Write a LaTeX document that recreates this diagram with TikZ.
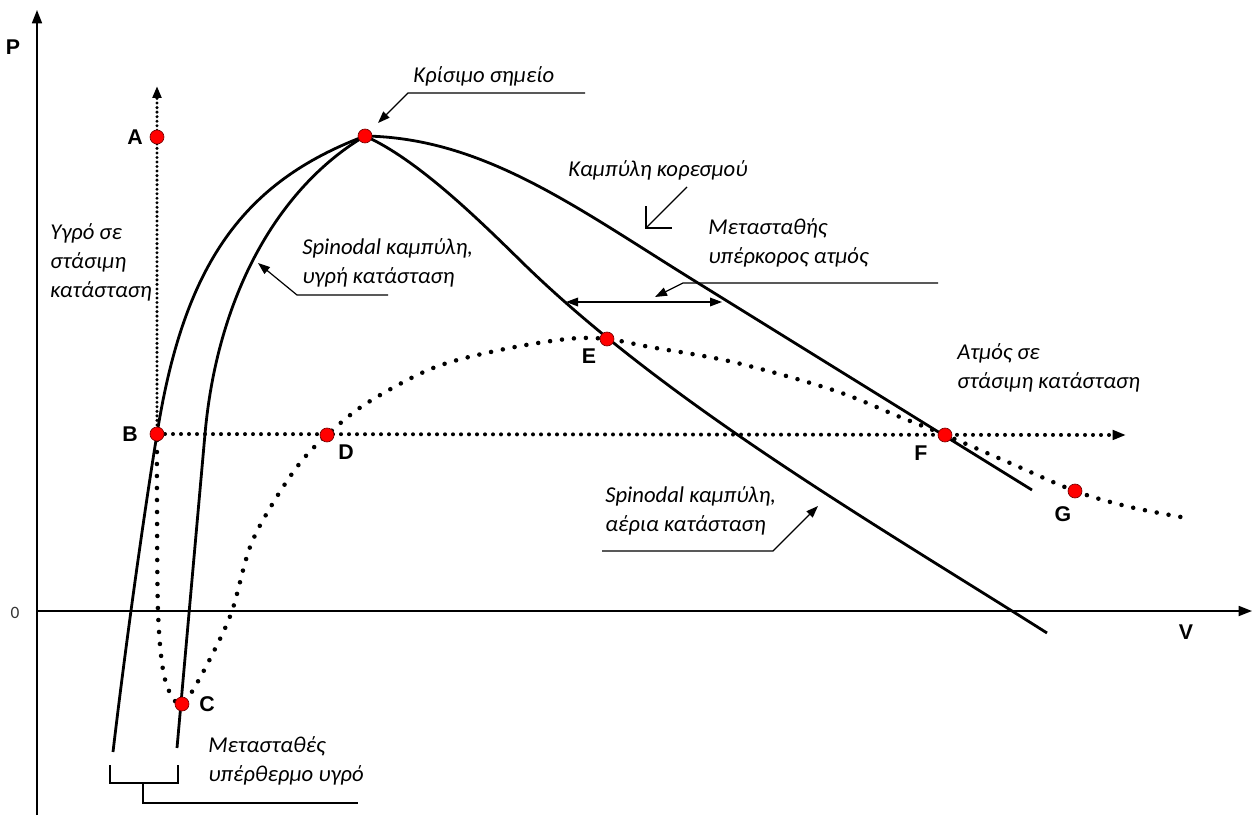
\documentclass[tikz,border=0pt]{standalone}
\usepackage{fontspec}
\setmainfont{Carlito}
\newfontfamily\lblfont{Liberation Sans}
\usetikzlibrary{arrows.meta}
\begin{document}
\begin{tikzpicture}[x=0.75pt,y=-0.75pt,
  curve/.style={line width=2.1pt, line join=round},
  axis/.style={line width=1.3pt},
  lead/.style={line width=0.9pt},
  tipa/.style={-{Triangle[length=9pt,width=6.5pt]}},
  tipb/.style={{Triangle[length=9pt,width=6.5pt]}-{Triangle[length=9pt,width=6.5pt]}},
  axtip/.style={-{Triangle[length=10pt,width=7.5pt]}},
  dotc/.style={line width=3.4pt, line cap=round, dash pattern=on 0pt off 9pt},
  doth/.style={line width=3pt, line cap=round, dash pattern=on 0pt off 6pt},
  dotv/.style={line width=2.5pt, line cap=round, dash pattern=on 0pt off 3.4pt},
  pt/.style={circle, fill=red, draw=red!45!black, line width=0.5pt, inner sep=0pt, minimum size=10.5pt},
  ptlabel/.style={font=\lblfont\bfseries\fontsize{16}{18}\selectfont, inner sep=0pt},
  txt/.style={font=\itshape\fontsize{17}{21.75}\selectfont, align=left, anchor=west, inner sep=0pt}
]
\useasboundingbox (0,0) rectangle (1254,817);

% axes
\coordinate (Pbot) at (37,815);
\coordinate (Ptop) at (37,10);
\coordinate (Vleft) at (37,611);
\coordinate (Vright) at (1252,611);
\draw[axis,axtip] (Pbot) -- (Ptop);
\draw[axis,axtip] (Vleft) -- (Vright);
\node[ptlabel] (Plab) at (13,47) {P};
\node[ptlabel] (Vlab) at (1186,632) {V};
\node[font=\fontsize{13}{15}\selectfont, text=black!80, inner sep=0pt] (zero) at (15,613) {0};

% points
\coordinate (crit) at (365,136);
\coordinate (A) at (157,137);
\coordinate (B) at (157,434);
\coordinate (C) at (182,704);
\coordinate (D) at (327,435);
\coordinate (E) at (607,339);
\coordinate (F) at (945,435);
\coordinate (G) at (1075,491);
\coordinate (Vtop) at (157,86);
\coordinate (Hend) at (1126,435);

% dotted lines
\draw[dotv,-{Triangle[length=9pt,width=6.5pt]}] (B) -- (Vtop);
\draw[doth,-{Triangle[length=10pt,width=7pt]}] (B) -- (Hend);

% van der Waals isotherm
\draw[dotc] plot[smooth, tension=0.55] coordinates {(157,440) (157,500) (158,611) (163,670) (172,697) (182,704) (193,690) (213,653) (232,611) (250,547) (273,503) (300,463) (327,435) (367,403) (433,368) (500,350) (567,339) (607,339) (650,347) (733,362) (833,390) (900,417) (945,435) (1010,463) (1075,491) (1130,507) (1192,519)};

% saturation curve
\coordinate (satL) at (113,752);
\coordinate (satR) at (1032,490);
\draw[curve] (satL) .. controls (125,650) and (143,520) .. (B)
  .. controls (184,264) and (243,182) .. (crit)
  .. controls (485,138) and (578,209) .. (698,283) -- (satR);

% liquid spinodal
\coordinate (spLb) at (177,748);
\draw[curve] (crit) .. controls (279,187) and (217.5,294) .. (205,434) -- (spLb);

% vapour spinodal
\coordinate (spGb) at (1047,633);
\draw[curve] (crit) .. controls (420,160.6) and (484,225) .. (527,267)
  .. controls (671,406) and (878,526) .. (spGb);

% red points
\node[pt] (nA) at (A) {};
\node[pt] (nB) at (B) {};
\node[pt] (nC) at (C) {};
\node[pt] (nD) at (D) {};
\node[pt] (nE) at (E) {};
\node[pt] (nF) at (F) {};
\node[pt] (nG) at (G) {};
\node[pt] (ncrit) at (crit) {};

\node[ptlabel] (lA) at (135,137) {A};
\node[ptlabel] (lB) at (130,434) {B};
\node[ptlabel] (lC) at (207,704) {C};
\node[ptlabel] (lD) at (346,452) {D};
\node[ptlabel] (lE) at (589,356) {E};
\node[ptlabel] (lF) at (921,453) {F};
\node[ptlabel] (lG) at (1063,514) {G};

% texts
\node[txt] (tKris) at (413,76) {Κρίσιμο σημείο};
\node[txt] (tKamp) at (568,170) {Καμπύλη κορεσμού};
\node[txt] (tMetV) at (708,243) {Μετασταθής\\υπέρκορος ατμός};
\node[txt] (tYgro) at (50,262) {Υγρό σε\\στάσιμη\\κατάσταση};
\node[txt] (tSpL) at (302,263) {Spinodal καμπύλη,\\υγρή κατάσταση};
\node[txt] (tAtm) at (957,368) {Ατμός σε\\στάσιμη κατάσταση};
\node[txt] (tSpG) at (605,511) {Spinodal καμπύλη,\\αέρια κατάσταση};
\node[txt] (tMetL) at (208,761) {Μετασταθές\\υπέρθερμο υγρό};

% leaders
\coordinate (k1) at (585,93);
\coordinate (k2) at (408,93);
\coordinate (k3) at (378,123);
\draw[lead,tipa] (k1) -- (k2) -- (k3);

\coordinate (s1) at (687,187);
\coordinate (s2) at (646,228);
\coordinate (s3) at (646,206);
\coordinate (s4) at (672,228);
\draw[lead] (s1) -- (s2);
\draw[lead] (s3) -- (s2) -- (s4);

\coordinate (m1) at (938,283);
\coordinate (m2) at (683,283);
\coordinate (m3) at (655,297);
\draw[lead,tipa] (m1) -- (m2) -- (m3);

\coordinate (d1) at (566,302);
\coordinate (d2) at (722,302);
\draw[lead,tipb] (d1) -- (d2);

\coordinate (l1) at (388,295);
\coordinate (l2) at (297,295);
\coordinate (l3) at (258,263);
\draw[lead,tipa] (l1) -- (l2) -- (l3);

\coordinate (g1) at (602,551);
\coordinate (g2) at (773,551);
\coordinate (g3) at (818,506);
\draw[lead,tipa] (g1) -- (g2) -- (g3);

\coordinate (b1) at (110,765);
\coordinate (b2) at (110,783);
\coordinate (b3) at (178,783);
\coordinate (b4) at (178,765);
\coordinate (b5) at (143,783);
\coordinate (b6) at (143,803);
\coordinate (b7) at (358,803);
\draw[lead] (b1) -- (b2) -- (b3) -- (b4);
\draw[lead] (b5) -- (b6) -- (b7);
\end{tikzpicture}
\end{document}
